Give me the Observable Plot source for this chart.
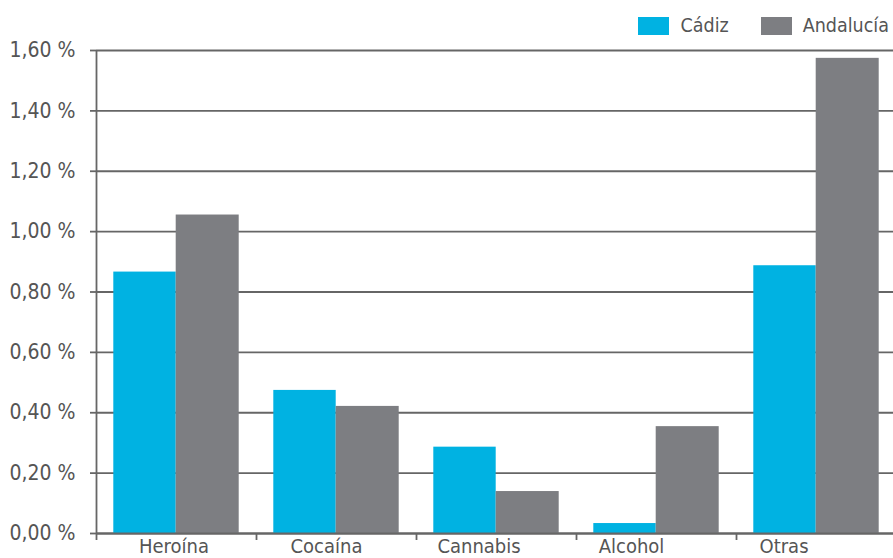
<!DOCTYPE html>
<html>
<head>
<meta charset="utf-8">
<script src="https://cdn.jsdelivr.net/npm/d3@7"></script>
<script src="https://cdn.jsdelivr.net/npm/@observablehq/plot@0.6"></script>
<style>
  html, body { margin: 0; padding: 0; background: #fff; }
  #wrap { position: relative; width: 893px; height: 558px; font-family: "DejaVu Sans Condensed", "DejaVu Sans", sans-serif; }
  #legend { position: absolute; top: 0; right: 4px; height: 42px; display: flex; justify-content: flex-end; align-items: flex-start; z-index: 2; }
  .item { display: flex; align-items: center; margin-left: 32px; margin-top: 16px; font-size: 19.5px; color: #555; line-height: 20px; }
  .sw { width: 31px; height: 18px; margin-right: 11px; }
</style>
</head>
<body>
<div id="wrap">
  <div id="legend"></div>
  <div id="chart"></div>
</div>
<script>
const categories = ["Heroína", "Cocaína", "Cannabis", "Alcohol", "Otras"];
const seriesNames = ["Cádiz", "Andalucía"];
const cadiz = [0.866, 0.474, 0.286, 0.033, 0.887];
const andalucia = [1.055, 0.421, 0.139, 0.354, 1.574];
const yTicks = [0, 0.2, 0.4, 0.6, 0.8, 1.0, 1.2, 1.4, 1.6];
const colors = ["#00b2e2", "#7d7e82"];

const data = [];
categories.forEach((c, i) => {
  data.push({cat: c, series: seriesNames[0], value: cadiz[i]});
  data.push({cat: c, series: seriesNames[1], value: andalucia[i]});
});

const fmt = d => d.toFixed(2).replace(".", ",") + " %";
const ink = "#666";
const textColor = "#555";

const legend = document.getElementById("legend");
seriesNames.forEach((s, i) => {
  const it = document.createElement("div");
  it.className = "item";
  it.innerHTML = `<span class="sw" style="background:${colors[i]}"></span><span>${s}</span>`;
  legend.appendChild(it);
});

// category labels in the original drift slightly left of their band centres
const labelMarks = categories.map((c, i) => Plot.text([c], {
  x: d => d, frameAnchor: "bottom", lineAnchor: "top", dy: 5, dx: -2.5 - 7.5 * i,
  fill: textColor, fontSize: 20
}));

const chart = Plot.plot({
  width: 893,
  height: 558,
  marginTop: 50,
  marginBottom: 25,
  marginLeft: 96,
  marginRight: -3,
  style: {fontFamily: '"DejaVu Sans Condensed", "DejaVu Sans", sans-serif', background: "#fff"},
  x: {domain: categories, padding: 0, axis: null},
  y: {domain: [0, 1.6]},
  color: {domain: seriesNames, range: colors},
  marks: [
    Plot.ruleY(yTicks, {stroke: ink, strokeWidth: 1.8}),
    Plot.barY(data.filter(d => d.series === seriesNames[0]), {x: "cat", y: "value", fill: "series", insetLeft: 17.3, insetRight: 80.3}),
    Plot.barY(data.filter(d => d.series === seriesNames[1]), {x: "cat", y: "value", fill: "series", insetLeft: 79.7, insetRight: 17.3}),
    Plot.ruleY([0], {stroke: ink, strokeWidth: 1.8}),
    Plot.axisY({ticks: yTicks, tickFormat: fmt, tickSize: 6, tickPadding: 15, stroke: ink, strokeWidth: 1.8, fill: textColor, fontSize: 21, label: null}),
    Plot.ruleX([categories[0]], {dx: -80, y1: 0, y2: 1.6, stroke: ink, strokeWidth: 1.8}),
    Plot.axisX({tickSize: 7, tickFormat: () => "", dx: -80, stroke: ink, strokeWidth: 1.8, label: null}),
    ...labelMarks
  ]
});
document.getElementById("chart").appendChild(chart);
</script>
</body>
</html>
